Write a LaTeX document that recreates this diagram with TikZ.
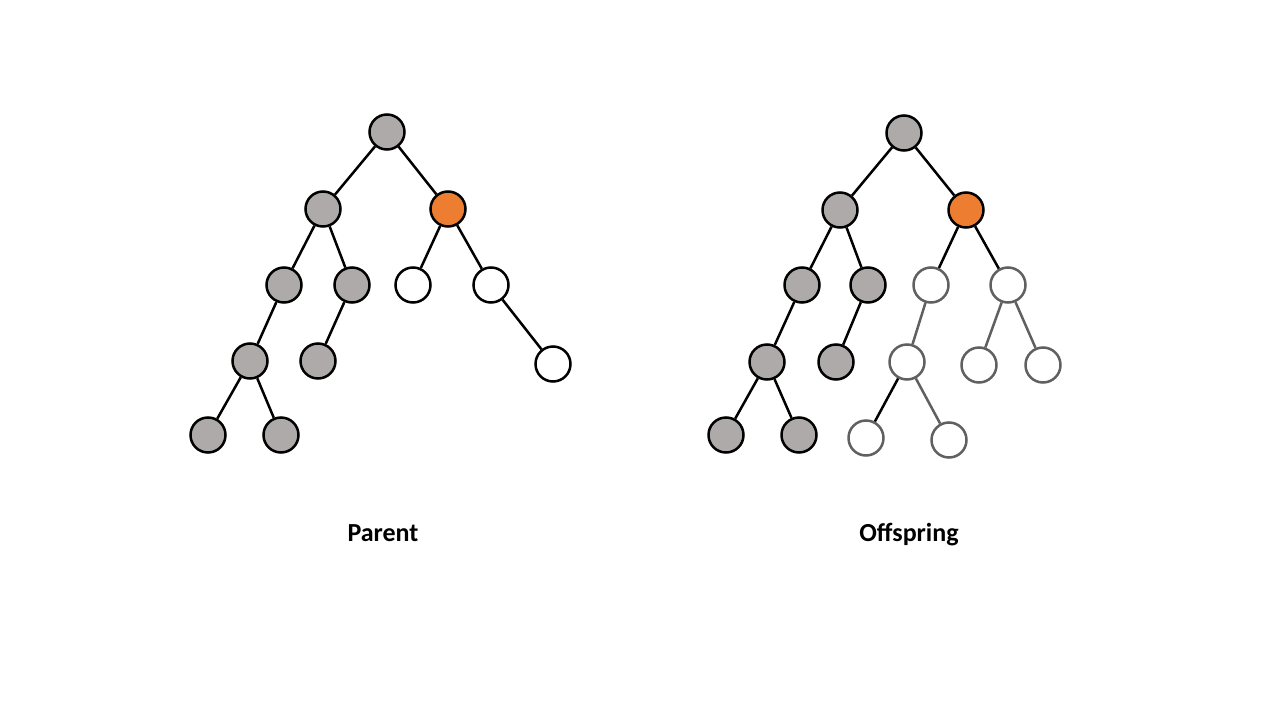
\documentclass[tikz,border=0pt]{standalone}
\usepackage{fontspec}
\setmainfont{Carlito}
\definecolor{nodegray}{RGB}{174,170,170}
\definecolor{hiorange}{RGB}{237,125,49}
\definecolor{newgray}{RGB}{96,96,96}
\begin{document}
\begin{tikzpicture}[x=1pt,y=-1pt,
  vtx/.style={circle,draw=black,line width=2.5pt,minimum size=35pt,inner sep=0pt},
  old/.style={vtx,fill=nodegray},
  sel/.style={vtx,fill=hiorange},
  empty/.style={vtx,fill=white},
  fresh/.style={vtx,fill=white,draw=newgray},
  link/.style={line width=2.5pt,draw=black},
  newlink/.style={line width=2.5pt,draw=newgray},
  caption/.style={font=\bfseries\fontsize{26}{30}\selectfont,inner sep=0pt,anchor=base}]
\useasboundingbox (0,0) rectangle (1280,720);
\fill[white] (0,0) rectangle (1280,720);

% Parent tree
\node[old]   (pa)  at (387,132) {};
\node[old]   (pb)  at (323,209) {};
\node[sel]   (pc)  at (448,209) {};
\node[old]   (pd)  at (284,285) {};
\node[old]   (pe)  at (352,285) {};
\node[empty] (pf)  at (413,285) {};
\node[empty] (pg)  at (491,285) {};
\node[old]   (ph)  at (250,361) {};
\node[old]   (pi)  at (318,361) {};
\node[empty] (pj)  at (553,364) {};
\node[old]   (pk)  at (208,435) {};
\node[old]   (pl)  at (281,435) {};
\draw[link] (pa) -- (pb);
\draw[link] (pa) -- (pc);
\draw[link] (pb) -- (pd);
\draw[link] (pb) -- (pe);
\draw[link] (pc) -- (pf);
\draw[link] (pc) -- (pg);
\draw[link] (pd) -- (ph);
\draw[link] (pe) -- (pi);
\draw[link] (pg) -- (pj);
\draw[link] (ph) -- (pk);
\draw[link] (ph) -- (pl);

% Offspring tree
\node[old]   (oa)  at (904,133) {};
\node[old]   (ob)  at (840,210) {};
\node[sel]   (oc)  at (966,210) {};
\node[old]   (od)  at (802,285) {};
\node[old]   (oe)  at (868,285) {};
\node[fresh] (of)  at (931,285) {};
\node[fresh] (og)  at (1008,285) {};
\node[old]   (oh)  at (767,362) {};
\node[old]   (oi)  at (836,362) {};
\node[fresh] (oj)  at (907,362) {};
\node[fresh] (ok)  at (979,365) {};
\node[fresh] (ol)  at (1043,365) {};
\node[old]   (om)  at (726,435) {};
\node[old]   (on)  at (799,435) {};
\node[fresh] (oo)  at (866,438) {};
\node[fresh] (op)  at (949,440) {};
\draw[link] (oa) -- (ob);
\draw[link] (oa) -- (oc);
\draw[link] (ob) -- (od);
\draw[link] (ob) -- (oe);
\draw[link] (oc) -- (of);
\draw[link] (oc) -- (og);
\draw[link] (od) -- (oh);
\draw[link] (oe) -- (oi);
\draw[link] (oh) -- (om);
\draw[link] (oh) -- (on);
\draw[newlink] (of) -- (oj);
\draw[newlink] (og) -- (ok);
\draw[newlink] (og) -- (ol);
\draw[link] (oj) -- (oo);
\draw[newlink] (oj) -- (op);

% Captions, aligned on a common baseline
\node[caption] (lp) at (383,541) {Parent};
\node[caption] (lo) at (909,541) {Offspring};
\end{tikzpicture}
\end{document}
